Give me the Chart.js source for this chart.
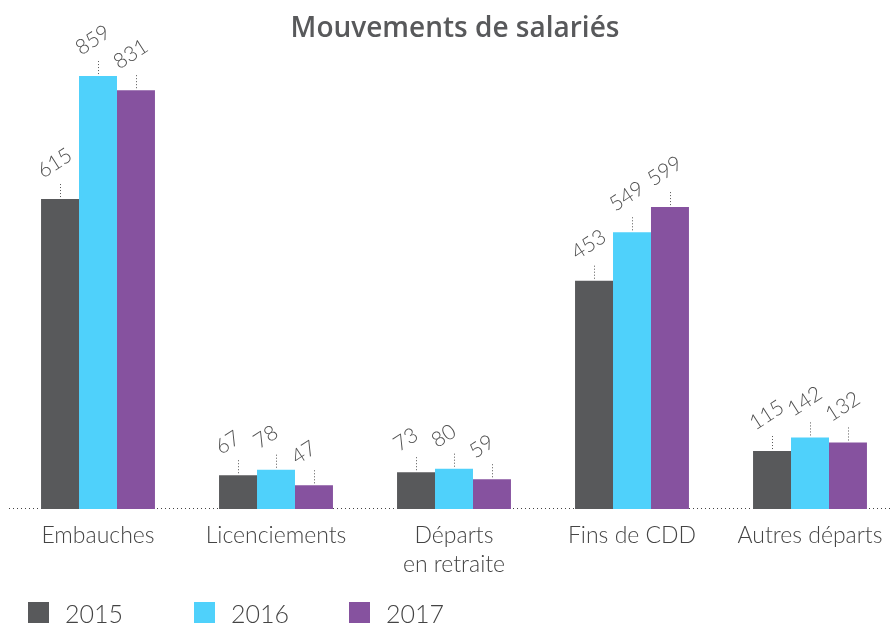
<!DOCTYPE html>
<html>
<head>
<meta charset="utf-8">
<script src="https://cdn.jsdelivr.net/npm/chart.js@4"></script>
<style>
  html, body { margin:0; padding:0; background:#fff; overflow:hidden; }
  #wrap { position:absolute; left:0; top:0; width:899px; height:623px; }
</style>
</head>
<body>
<div id="wrap"><canvas id="bargraph"></canvas></div>
<script>
// data
var categories = ["Embauches", "Licenciements", ["Départs", "en retraite"], "Fins de CDD", "Autres départs"];
var years = ["2015", "2016", "2017"];
var val2015 = [615, 67, 73, 453, 115];
var val2016 = [859, 78, 80, 549, 142];
var val2017 = [831, 47, 59, 599, 132];
var colors = ["#58595b", "#4fd1fb", "#86529f"];

var chartTitle = "Mouvements de salariés";

// value labels with dotted leader
var valueLabels = {
    id: "valueLabels",
    afterDatasetsDraw: function(chart){
        var ctx = chart.ctx;
        ctx.save();
        chart.data.datasets.forEach(function(ds, i){
            var meta = chart.getDatasetMeta(i);
            meta.data.forEach(function(bar, j){
                var x = Math.round(bar.x) + 0.5;
                var top = bar.y;
                ctx.strokeStyle = "#555";
                ctx.lineWidth = 1;
                ctx.setLineDash([1, 2]);
                ctx.beginPath();
                ctx.moveTo(x, top - 2);
                ctx.lineTo(x, top - 16);
                ctx.stroke();
                ctx.setLineDash([]);
                ctx.save();
                ctx.translate(x - 21, top - 26);
                ctx.rotate(-33 * Math.PI / 180);
                ctx.font = "300 21px Lato";
                ctx.fillStyle = "#505050";
                ctx.textAlign = "left";
                ctx.textBaseline = "middle";
                ctx.fillText(String(ds.data[j]), 0, 0);
                ctx.restore();
            });
        });
        ctx.restore();
    }
};

// dotted baseline, title and legend
var extras = {
    id: "extras",
    beforeDatasetsDraw: function(chart){
        var ctx = chart.ctx, a = chart.chartArea;
        ctx.save();
        ctx.strokeStyle = "#444";
        ctx.lineWidth = 1;
        ctx.setLineDash([1, 3]);
        ctx.beginPath();
        ctx.moveTo(a.left, Math.round(a.bottom) - 0.5);
        ctx.lineTo(a.right, Math.round(a.bottom) - 0.5);
        ctx.stroke();
        ctx.restore();
    },
    afterDraw: function(chart){
        var ctx = chart.ctx;
        ctx.save();
        ctx.font = "600 28px 'Open Sans'";
        ctx.fillStyle = "#58595b";
        ctx.textAlign = "center";
        ctx.textBaseline = "middle";
        ctx.fillText(chartTitle, 455, 29);

        var lx = [28, 194, 349];
        chart.data.datasets.forEach(function(ds, i){
            ctx.fillStyle = ds.backgroundColor;
            ctx.fillRect(lx[i], 602, 21, 22);
            ctx.fillStyle = "#444";
            ctx.font = "300 25px Lato";
            ctx.textAlign = "left";
            ctx.textBaseline = "alphabetic";
            ctx.fillText(ds.label, lx[i] + 37, 623);
        });
        ctx.restore();
    }
};

var datasets = [val2015, val2016, val2017].map(function(v, i){
    return {
        label: years[i],
        data: v,
        backgroundColor: colors[i],
        borderWidth: 0,
        categoryPercentage: 0.64,
        barPercentage: 1.0
    };
});

var ctx = document.getElementById("bargraph");
var bars = new Chart(ctx, {
    type: "bar",
    data: { labels: categories, datasets: datasets },
    options: {
        responsive: true,
        maintainAspectRatio: false,
        animation: false,
        layout: { padding: { left: 9, right: 0, top: 5, bottom: 0 } },
        plugins: {
            legend: { display: false },
            title: { display: false },
            tooltip: { enabled: false }
        },
        scales: {
            x: {
                grid: { display: false },
                border: { display: false },
                ticks: {
                    color: "#444",
                    font: { family: "Lato", weight: "300", size: 23, lineHeight: 1.25 },
                    padding: 4,
                    maxRotation: 0,
                    autoSkip: false
                },
                afterFit: function(scale){ scale.height = 114; }
            },
            y: {
                display: false,
                min: 0,
                max: 1000
            }
        }
    },
    plugins: [valueLabels, extras]
});
</script>
</body>
</html>
